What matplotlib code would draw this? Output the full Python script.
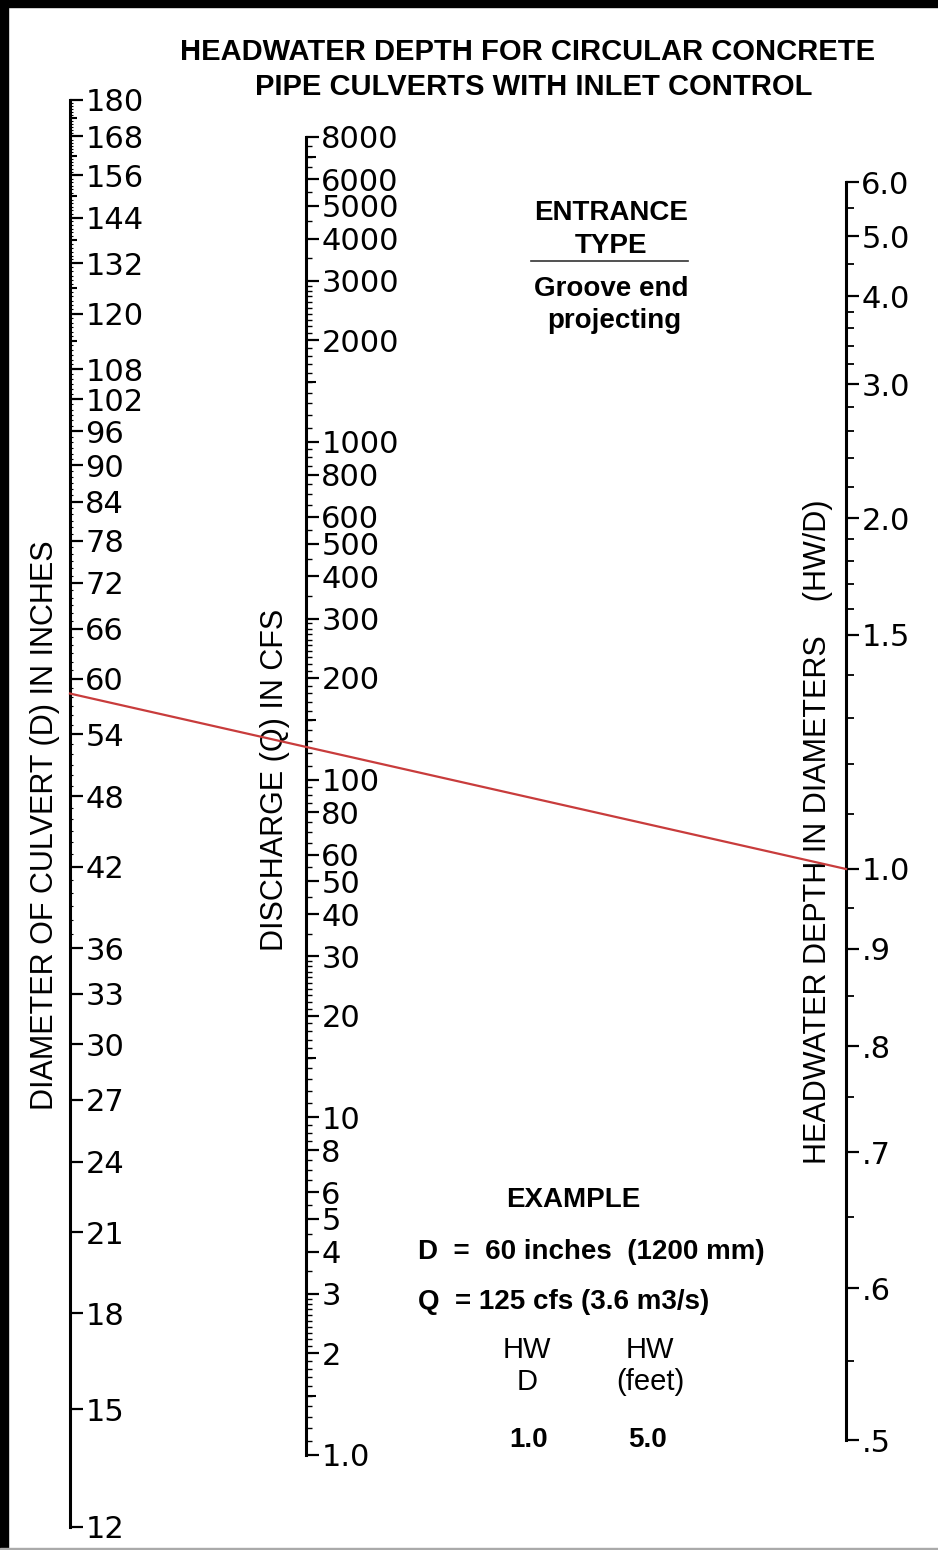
import numpy as np
import matplotlib.pyplot as plt
from matplotlib.lines import Line2D
from matplotlib.patches import Rectangle

W, H = 938, 1550   # picture size in px (dpi 100)

# --- diameter of culvert (inches), log scale
d_ticks = [12, 15, 18, 21, 24, 27, 30, 33, 36, 42, 48, 54, 60, 66, 72, 78, 84, 90,
           96, 102, 108, 120, 132, 144, 156, 168, 180]
d_mid = [114, 126, 138, 150, 162, 174]
d_fine = list(range(36, 181))

# --- discharge (cfs), log scale
q_ticks = [1, 2, 3, 4, 5, 6, 8, 10, 20, 30, 40, 50, 60, 80, 100, 200, 300, 400, 500,
           600, 800, 1000, 2000, 3000, 4000, 5000, 6000, 8000]
q_labels = ["1.0", "2", "3", "4", "5", "6", "8", "10", "20", "30", "40", "50", "60", "80",
            "100", "200", "300", "400", "500", "600", "800", "1000", "2000", "3000",
            "4000", "5000", "6000", "8000"]
q_mid = [1.5, 15, 150, 1500, 7000]
q_fine = []
for dec in [1, 10, 100, 1000]:
    q_fine += list(np.arange(1, 3, 0.1) * dec) + list(np.arange(3, 10, 0.5) * dec)
q_fine = [v for v in q_fine if v <= 8000]

# --- headwater depth in diameters (HW/D), nomograph graduation
hw_ticks = [0.5, 0.6, 0.7, 0.8, 0.9, 1.0, 1.5, 2.0, 3.0, 4.0, 5.0, 6.0]
hw_labels = [".5", ".6", ".7", ".8", ".9", "1.0", "1.5", "2.0", "3.0", "4.0", "5.0", "6.0"]
hw_mid = [0.55, 0.65, 0.75, 0.85, 0.95, 1.1, 1.2, 1.3, 1.4, 1.6, 1.7, 1.8, 1.9,
          2.2, 2.4, 2.6, 2.8, 3.2, 3.4, 3.6, 3.8, 4.5, 5.5]
# graduation of the HW/D scale: value -> distance along the scale
hw_cal = [0.5, 0.6, 0.7, 0.8, 0.9, 1.0, 1.5, 2.0, 3.0, 4.0, 5.0, 6.0]
hw_cal_pos = [110, 262, 398, 504, 601, 681, 915, 1032, 1166, 1254, 1314, 1368]

# example: Q = 125 cfs, HW/D = 1.0 (line carried on to the D scale)
ex_Q = 125
ex_HWD = 1.0


def hw_fwd(v):
    v = np.clip(np.asarray(v, dtype=float), 1e-6, None)
    return np.interp(np.log(v), np.log(hw_cal), hw_cal_pos)


def hw_inv(p):
    return np.exp(np.interp(p, hw_cal_pos, np.log(hw_cal)))


fig = plt.figure(figsize=(W / 100, H / 100), dpi=100)
fig.patch.set_facecolor("white")


def make_axis(xpix, ybot, ytop, lo, hi, scale):
    ax = fig.add_axes([xpix / W, 1 - ybot / H, 0.0001, (ybot - ytop) / H])
    if scale == "log":
        ax.set_yscale("log")
    else:
        ax.set_yscale("function", functions=(hw_fwd, hw_inv))
    ax.set_ylim(lo, hi)
    ax.set_xlim(0, 1)
    for s in ["left", "top", "bottom"]:
        ax.spines[s].set_visible(False)
    ax.spines["right"].set_linewidth(2.2)
    ax.patch.set_visible(False)
    ax.xaxis.set_visible(False)
    ax.yaxis.tick_right()
    return ax


def add_mid(xpix, ybot, ytop, lo, hi, scale, vals, length):
    ax = make_axis(xpix, ybot, ytop, lo, hi, scale)
    ax.spines["right"].set_visible(False)
    ax.set_yticks(vals, [""] * len(vals))
    ax.set_yticks([], minor=True)
    ax.tick_params(axis="y", which="major", direction="out", length=length, width=1.5)
    return ax


lab_font = dict(labelsize=22, pad=2)

# left: diameter
axD = make_axis(70, 1527, 100, 12, 180, "log")
axD.set_yticks(d_ticks, [str(v) for v in d_ticks])
axD.set_yticks(d_fine, minor=True)
axD.yaxis.set_minor_formatter(plt.NullFormatter())
axD.tick_params(axis="y", which="major", direction="out", length=9, width=1.6, **lab_font)
axD.tick_params(axis="y", which="minor", direction="out", length=2.5, width=0.8)
add_mid(70, 1527, 100, 12, 180, "log", d_mid, 5)

# middle: discharge
axQ = make_axis(306, 1455, 137, 1, 8000, "log")
axQ.set_yticks(q_ticks, q_labels)
axQ.set_yticks(q_fine, minor=True)
axQ.yaxis.set_minor_formatter(plt.NullFormatter())
axQ.tick_params(axis="y", which="major", direction="out", length=9, width=1.6, **lab_font)
axQ.tick_params(axis="y", which="minor", direction="out", length=4, width=1.0)
add_mid(306, 1455, 137, 1, 8000, "log", q_mid, 7)

# right: HW/D
axHW = make_axis(846, 1440, 182, 0.5, 6.0, "func")
axHW.set_yticks(hw_ticks, hw_labels)
axHW.set_yticks(hw_mid, minor=True)
axHW.yaxis.set_minor_formatter(plt.NullFormatter())
axHW.tick_params(axis="y", which="major", direction="out", length=9, width=1.6, **lab_font)
axHW.tick_params(axis="y", which="minor", direction="out", length=6, width=1.3)

# example line through Q and HW/D, carried to the diameter scale
pq = axQ.transData.transform((0, ex_Q))
ph = axHW.transData.transform((0, ex_HWD))
xl = axD.transData.transform((0, 60))[0]
yl = pq[1] + (ph[1] - pq[1]) * (xl - pq[0]) / (ph[0] - pq[0])
fig.add_artist(Line2D([xl, ph[0]], [yl, ph[1]], transform=None,
                      color="#c83c3c", lw=1.6, zorder=5))


def ftext(x, y, s, **kw):
    fig.text(x / W, 1 - y / H, s, **kw)


sans = ["Liberation Sans", "DejaVu Sans"]
# title
ftext(528, 52, "HEADWATER DEPTH FOR CIRCULAR CONCRETE", ha="center", va="center",
      fontsize=21, fontweight="bold", family=sans)
ftext(534, 87, "PIPE CULVERTS WITH INLET CONTROL", ha="center", va="center",
      fontsize=21, fontweight="bold", family=sans)

# scale titles
ftext(45, 825, "DIAMETER OF CULVERT (D) IN INCHES", rotation=90, ha="center", va="center",
      fontsize=22, family=sans)
ftext(275, 780, "DISCHARGE (Q) IN CFS", rotation=90, ha="center", va="center",
      fontsize=22, family=sans)
ftext(818, 832, "HEADWATER DEPTH IN DIAMETERS    (HW/D)", rotation=90, ha="center",
      va="center", fontsize=22, family=sans)

# entrance type
bold20 = dict(fontsize=20, fontweight="bold", family=sans)
ftext(611, 213, "ENTRANCE", ha="center", va="center", **bold20)
ftext(611, 246, "TYPE", ha="center", va="center", **bold20)
fig.add_artist(Line2D([531 / W, 688 / W], [1 - 261 / H, 1 - 261 / H], color="#333333", lw=1.2))
ftext(611, 289, "Groove end", ha="center", va="center", **bold20)
ftext(614, 321, "projecting", ha="center", va="center", **bold20)

# example block
ftext(573, 1200, "EXAMPLE", ha="center", va="center", **bold20)
ftext(418, 1252, "D  =  60 inches  (1200 mm)", ha="left", va="center", **bold20)
ftext(418, 1302, "Q  = 125 cfs (3.6 m3/s)", ha="left", va="center", **bold20)
ftext(527, 1350, "HW", ha="center", va="center", fontsize=21, family=sans)
ftext(527, 1382, "D", ha="center", va="center", fontsize=21, family=sans)
ftext(650, 1350, "HW", ha="center", va="center", fontsize=21, family=sans)
ftext(650, 1382, "(feet)", ha="center", va="center", fontsize=21, family=sans)
ftext(529, 1440, "1.0", ha="center", va="center", **bold20)
ftext(647, 1440, "5.0", ha="center", va="center", **bold20)

# frame of the scanned sheet
fig.add_artist(Rectangle((0, 1 - 7 / H), 1, 7 / H, transform=fig.transFigure,
                         color="black", zorder=10))
fig.add_artist(Rectangle((0, 0), 8 / W, 1, transform=fig.transFigure,
                         color="black", zorder=10))
fig.add_artist(Rectangle((0, 0), 1, 2 / H, transform=fig.transFigure,
                         color="#aaaaaa", zorder=10))

fig.savefig("out.png", dpi=100)
